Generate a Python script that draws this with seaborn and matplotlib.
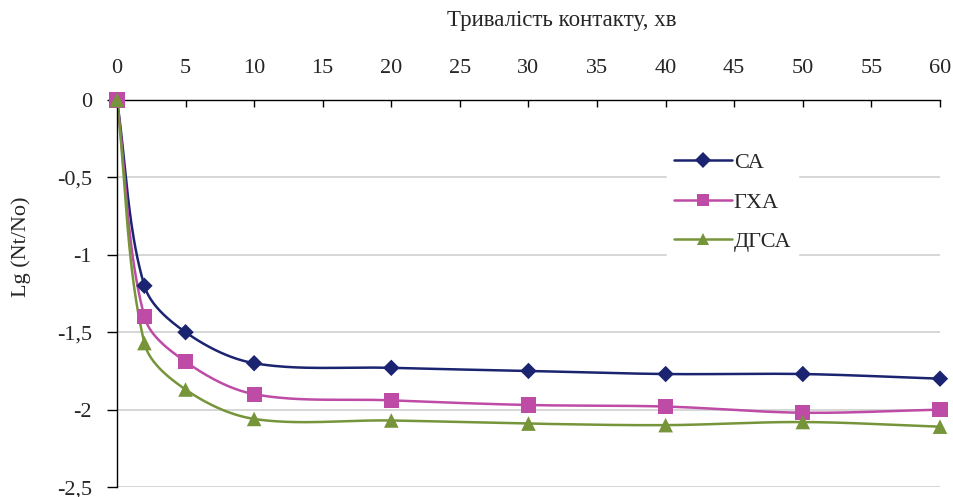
import numpy as np
import pandas as pd
import matplotlib
matplotlib.use("Agg")
import matplotlib.pyplot as plt
from matplotlib.lines import Line2D
import seaborn as sns

# дані
minutes = [0, 2, 5, 10, 20, 30, 40, 50, 60]
ca = [0, -1.20, -1.50, -1.70, -1.73, -1.75, -1.77, -1.77, -1.80]
gha = [0, -1.40, -1.69, -1.90, -1.94, -1.97, -1.98, -2.02, -2.00]
dgsa = [0, -1.57, -1.87, -2.06, -2.07, -2.09, -2.10, -2.08, -2.11]
series_names = ["СА", "ГХА", "ДГСА"]
y_ticks = [0, -0.5, -1, -1.5, -2, -2.5]
y_tick_labels = ["0", "-0,5", "-1", "-1,5", "-2", "-2,5"]
x_ticks = list(range(0, 61, 5))

colors = {"СА": "#1B2470", "ГХА": "#BE4BA6", "ДГСА": "#76953A"}
markers = {"СА": "D", "ГХА": "s", "ДГСА": "^"}
msizes = {"СА": 70, "ГХА": 120, "ДГСА": 110}

df = pd.DataFrame({"t": minutes * 3,
                   "v": ca + gha + dgsa,
                   "series": sum([[n] * len(minutes) for n in series_names], [])})


def smooth(x, y, sx=823 / 60, sy=154.8, f=1 / 3, n=40):
    # згладжування кривої (Безьє, контрольні точки пропорційні довжинам відрізків)
    p = np.column_stack([np.array(x) * sx, np.array(y) * sy])
    m = len(p)
    c_out = np.zeros_like(p)
    c_in = np.zeros_like(p)
    for i in range(m):
        prev = p[max(i - 1, 0)]
        nxt = p[min(i + 1, m - 1)]
        tan = nxt - prev
        d1 = np.linalg.norm(p[i] - prev)
        d2 = np.linalg.norm(nxt - p[i])
        tot = d1 + d2
        c_out[i] = p[i] + tan * f * (d2 / tot if tot else 0)
        c_in[i] = p[i] - tan * f * (d1 / tot if tot else 0)
    t = np.linspace(0, 1, n)[:, None]
    out = []
    for i in range(m - 1):
        p1, a, b, p2 = p[i], c_out[i], c_in[i + 1], p[i + 1]
        out.append(((1 - t) ** 3) * p1 + 3 * ((1 - t) ** 2) * t * a + 3 * (1 - t) * t ** 2 * b + t ** 3 * p2)
    out = np.vstack(out)
    return out[:, 0] / sx, out[:, 1] / sy


sns.set_style("white")
plt.rcParams["font.family"] = ["Liberation Serif", "DejaVu Serif"]

fig = plt.figure(figsize=(9.54, 4.97), dpi=100)
ax = fig.add_axes([0.1226, 0.02, 0.8627, 0.7788])

for name in series_names:
    sub = df[df["series"] == name]
    xs, ys = smooth(sub["t"].values, sub["v"].values)
    ax.plot(xs, ys, color=colors[name], lw=1.8, zorder=2)

sns.scatterplot(data=df, x="t", y="v", hue="series", style="series",
                palette=colors, markers=markers, size="series", sizes=msizes,
                edgecolor="none", legend=False, ax=ax, zorder=3, clip_on=False)

ax.set_xlim(0, 60)
ax.set_ylim(-2.5, 0)
ax.set_yticks(y_ticks)
ax.set_yticklabels(y_tick_labels)
ax.set_xticks(x_ticks)
ax.xaxis.tick_top()
ax.xaxis.set_label_position("top")
ax.tick_params(axis="x", direction="in", length=5, width=1, pad=16, labelsize=16, color="black")
ax.tick_params(axis="y", direction="out", length=7, width=1, pad=11, labelsize=16, color="black", left=True)
ax.set_xlabel("Тривалість контакту, хв", fontsize=16.5)
ax.set_ylabel("Lg (Nt/No)", fontsize=16)
ax.xaxis.set_label_coords(0.54, 1.19)
ax.yaxis.set_label_coords(-0.105, 0.62)

ax.grid(axis="y", color="#CFCFCF", lw=1.2)
ax.set_axisbelow(True)
for s in ["right", "bottom"]:
    ax.spines[s].set_visible(False)
for s in ["left", "top"]:
    ax.spines[s].set_color("black")
    ax.spines[s].set_linewidth(1)

handles = [Line2D([], [], color=colors[n], marker=markers[n], lw=1.8,
                  markersize=9 if n != "СА" else 8, markeredgewidth=0) for n in series_names]
leg = ax.legend(handles, series_names, loc="upper left", bbox_to_anchor=(0.655, 0.91),
                frameon=True, fontsize=16, handlelength=2.6, labelspacing=0.85,
                borderpad=0.3, handletextpad=0.1)
leg.get_frame().set_edgecolor("white")
leg.get_frame().set_facecolor("white")
leg.get_frame().set_alpha(1)

fig.savefig("out.png", dpi=100)
